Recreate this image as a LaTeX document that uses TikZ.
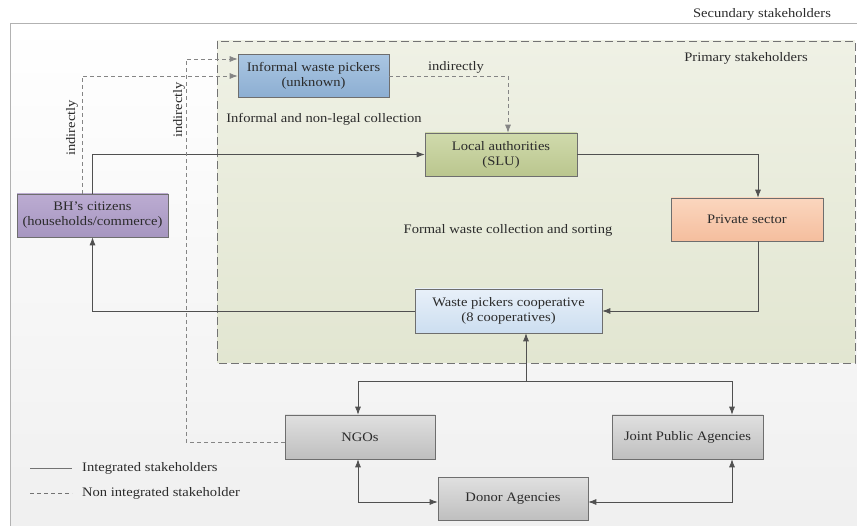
\documentclass[tikz,border=0pt]{standalone}
\usepackage{fontspec}
\setmainfont{Liberation Serif}[FakeStretch=1.12]
\usetikzlibrary{arrows.meta}
\definecolor{txt}{HTML}{2B2B2B}
\definecolor{ln}{HTML}{505050}
\definecolor{dln}{HTML}{858585}
\definecolor{bordc}{HTML}{6E6E6E}
\definecolor{infT}{HTML}{AAC6E2}\definecolor{infB}{HTML}{8CAED2}
\definecolor{locT}{HTML}{D0DAAC}\definecolor{locB}{HTML}{BAC68E}
\definecolor{prvT}{HTML}{FBD6BE}\definecolor{prvB}{HTML}{F5BE9E}
\definecolor{copT}{HTML}{E8F0F9}\definecolor{copB}{HTML}{CCDEF0}
\definecolor{bhT}{HTML}{BCACD2}\definecolor{bhB}{HTML}{A696C0}
\definecolor{gT}{HTML}{E0E0E0}\definecolor{gB}{HTML}{BFBFBF}
\definecolor{primT}{HTML}{EFF1E5}\definecolor{primB}{HTML}{E2E6D1}
\tikzset{
  box/.style={draw=bordc, line width=0.6pt, rectangle, minimum width=151pt, minimum height=43pt,
    align=center, text=txt, font=\fontsize{13}{15}\selectfont, inner sep=2pt},
  lbl/.style={text=txt, font=\fontsize{13}{15}\selectfont, inner sep=0pt},
  tip/.tip={Latex[length=8pt,width=6pt]},
  conn/.style={draw=ln, line width=0.8pt, -tip},
  bconn/.style={draw=ln, line width=0.8pt, tip-tip},
  dconn/.style={draw=dln, line width=0.8pt, dash pattern=on 4pt off 3pt, -tip},
}
\begin{document}
\begin{tikzpicture}[x=1pt,y=-1pt]
\useasboundingbox (0,0) rectangle (857,526);
% secondary region
\shade[top color=white, bottom color=black!6] (10,23) rectangle (862,526);
\draw[black!30, line width=0.6pt] (862,23) -- (10,23) -- (10,526);
\node[lbl, anchor=center] (sec) at (762,14) {Secundary stakeholders};
% primary region
\shade[top color=primT, bottom color=primB] (217,41) rectangle (855,363);
\draw[black!55, line width=0.8pt, dash pattern=on 8pt off 4pt] (217,41) rectangle (855,363);
\node[lbl] (prim) at (746,58) {Primary stakeholders};
\node[lbl] (infl) at (324,119) {Informal and non-legal collection};
\node[lbl] (forml) at (508,230) {Formal waste collection and sorting};
% boxes
\node[box, top color=infT, bottom color=infB] (inf) at (313.5,76) {Informal waste pickers\\(unknown)};
\node[box, top color=locT, bottom color=locB, minimum width=152pt] (loc) at (501,154.5) {Local authorities\\(SLU)};
\node[box, top color=prvT, bottom color=prvB, minimum width=152pt] (priv) at (747,219.5) {Private sector};
\node[box, top color=copT, bottom color=copB, minimum width=187pt, minimum height=44pt] (coop) at (508.5,311) {Waste pickers cooperative\\(8 cooperatives)};
\node[box, top color=bhT, bottom color=bhB] (bh) at (92.5,215.5) {BH's citizens\\(households/commerce)};
\node[box, top color=gT, bottom color=gB, minimum width=150pt, minimum height=44pt] (ngo) at (360,437) {NGOs};
\node[box, top color=gT, bottom color=gB, minimum height=44pt] (jpa) at (687.5,437) {Joint Public Agencies};
\node[box, top color=gT, bottom color=gB, minimum width=150pt] (don) at (513,498.5) {Donor Agencies};
% connectors
\draw[conn] (bh.north) |- (loc.west);
\draw[dconn] ([xshift=-10.5pt]bh.north) |- (inf.west);
\coordinate (k) at (186,59);
\draw[dconn] ([yshift=-5pt]ngo.west) -| (k) -- (k -| inf.west);
\draw[dconn] (inf.east) -| ([xshift=7pt]loc.north);
\node[lbl] (ind1) at (456,67) {indirectly};
\node[lbl, rotate=90] (ind2) at (72,128) {indirectly};
\node[lbl, rotate=90] (ind3) at (179,110) {indirectly};
\draw[conn] (loc.east) -| ([xshift=11pt]priv.north);
\draw[conn] ([xshift=11pt]priv.south) |- (coop.east);
\draw[conn] (coop.west) -| (bh.south);
\coordinate (j) at (526,381);
\draw[conn] (j) -- (j |- coop.south);
\draw[conn] (j) -| ([xshift=-2pt]ngo.north);
\draw[conn] (j) -| ([xshift=44.5pt]jpa.north);
\draw[bconn] ([xshift=-2pt]ngo.south) |- ([yshift=-3.5pt]don.west);
\draw[bconn] ([yshift=-3.5pt]don.east) -| ([xshift=44.5pt]jpa.south);
% legend
\coordinate (l1a) at (30,468); \coordinate (l1b) at (72,468);
\coordinate (l2a) at (30,493); \coordinate (l2b) at (72,493);
\draw[ln!80, line width=0.8pt] (l1a) -- (l1b);
\draw[ln!80, line width=0.8pt, dash pattern=on 4pt off 3pt] (l2a) -- (l2b);
\node[lbl, anchor=west] (leg1) at (82,468) {Integrated stakeholders};
\node[lbl, anchor=west] (leg2) at (82,493) {Non integrated stakeholder};
\end{tikzpicture}
\end{document}
